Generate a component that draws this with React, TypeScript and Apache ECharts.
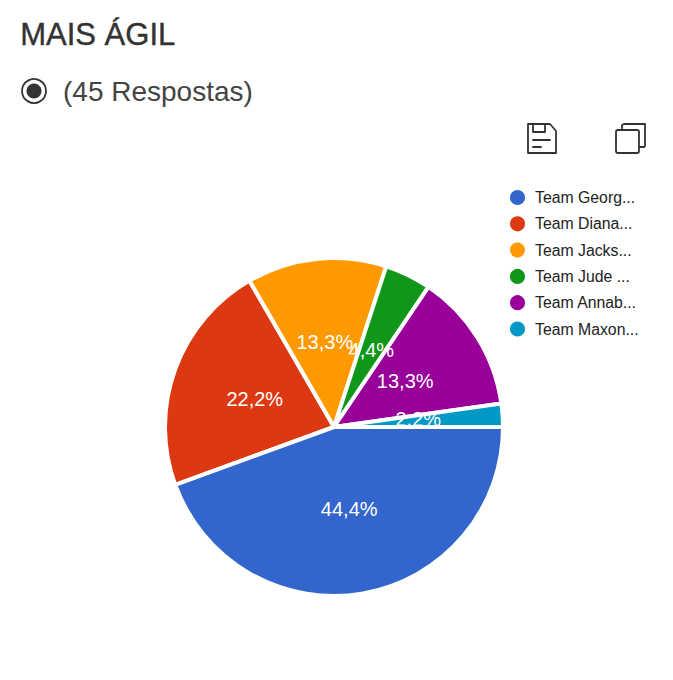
import React, { useEffect, useRef } from "react";
import * as echarts from "echarts";

const teamNames = ["Team Georg...", "Team Diana...", "Team Jacks...", "Team Jude ...", "Team Annab...", "Team Maxon..."];
const votes = [20, 10, 6, 2, 6, 1];
const colors = ["#3366cc", "#dc3912", "#ff9900", "#109618", "#990099", "#0099c6"];
const titleText = "MAIS ÁGIL";
const subtitleText = "(45 Respostas)";
const FONT = "'Liberation Sans', Arial, sans-serif";
const INK = "#333333";

const total = votes.reduce((a, b) => a + b, 0);
const pctLabel = (p: any) => ((p.value / total) * 100).toFixed(1).replace(".", ",") + "%";

export default function App() {
  const ref = useRef<HTMLDivElement>(null);
  useEffect(() => {
    const chart = echarts.init(ref.current!, undefined, { renderer: "svg" });
    const iconStroke = { stroke: INK, lineWidth: 1.8, fill: "none", lineJoin: "round", lineCap: "round" };
    const labelOffsets = [[0, -4], [3, 2], [0, 2], [-1, 2], [-3, 0], [-3, -2]];
    chart.setOption({
      animation: false,
      backgroundColor: "#ffffff",
      color: colors,
      legend: {
        show: true,
        orient: "vertical",
        left: 503,
        top: 183,
        icon: "circle",
        itemWidth: 17,
        itemHeight: 17,
        itemGap: 7.3,
        selectedMode: false,
        data: teamNames,
        textStyle: { fontFamily: FONT, fontSize: 15.8, color: "#222222", padding: [0, 0, 0, 4] },
      },
      series: [
        {
          type: "pie",
          name: "base",
          z: 1,
          center: [334, 427],
          radius: [0, 169],
          startAngle: 0,
          clockwise: true,
          avoidLabelOverlap: false,
          labelLayout: { hideOverlap: false },
          label: {
            show: true,
            position: "inside",
            color: "#ffffff",
            fontFamily: FONT,
            fontSize: 20,
            formatter: (p: any) => (p.dataIndex === 0 ? "" : pctLabel(p)),
          },
          labelLine: { show: false },
          emphasis: { disabled: true },
          itemStyle: { borderColor: "#ffffff", borderWidth: 4 },
          data: teamNames.map((name, i) => ({ name, value: votes[i], label: { offset: labelOffsets[i] } })),
        },
        {
          type: "pie",
          name: "top",
          z: 5,
          center: [334, 427],
          radius: [0, 169],
          startAngle: 0,
          clockwise: true,
          avoidLabelOverlap: false,
          legendHoverLink: false,
          labelLayout: { hideOverlap: false },
          label: {
            show: true,
            position: "inside",
            color: "#ffffff",
            fontFamily: FONT,
            fontSize: 20,
            offset: labelOffsets[0],
            formatter: (p: any) => (p.dataIndex === 0 ? pctLabel(p) : ""),
          },
          labelLine: { show: false },
          emphasis: { disabled: true },
          data: teamNames.map((name, i) => ({
            name,
            value: votes[i],
            itemStyle:
              i === 0
                ? { color: colors[0], borderColor: "#ffffff", borderWidth: 4 }
                : { color: "transparent", borderWidth: 0 },
          })),
        },
      ],
      graphic: [
        { type: "text", left: 20, top: 19, style: { text: titleText, fontFamily: FONT, fontSize: 31, fill: INK, stroke: INK, lineWidth: 0.4 } },
        { type: "circle", shape: { cx: 34, cy: 91, r: 12 }, style: { stroke: INK, lineWidth: 1.8, fill: "none" } },
        { type: "circle", shape: { cx: 34, cy: 91, r: 7.5 }, style: { fill: INK } },
        { type: "text", left: 63, top: 77, style: { text: subtitleText, fontFamily: FONT, fontSize: 28, fill: "#444444" } },
        // save icon
        { type: "polygon", shape: { points: [[528, 124], [550, 124], [556, 131], [556, 153], [528, 153]] }, style: iconStroke },
        { type: "polyline", shape: { points: [[533, 124], [533, 132], [545, 132], [545, 124]] }, style: iconStroke },
        { type: "line", shape: { x1: 533, y1: 140, x2: 550, y2: 140 }, style: iconStroke },
        { type: "line", shape: { x1: 533, y1: 147, x2: 541, y2: 147 }, style: iconStroke },
        // copy icon
        { type: "polyline", shape: { points: [[622, 130], [622, 125], [624, 124], [645, 124], [645, 146], [644, 147], [639, 147]] }, style: iconStroke },
        { type: "rect", shape: { x: 616, y: 130, width: 23, height: 23, r: 2 }, style: iconStroke },
      ],
    });
    return () => chart.dispose();
  }, []);
  return <div ref={ref} style={{ position: "absolute", left: 0, top: 0, width: 673, height: 680 }} />;
}
